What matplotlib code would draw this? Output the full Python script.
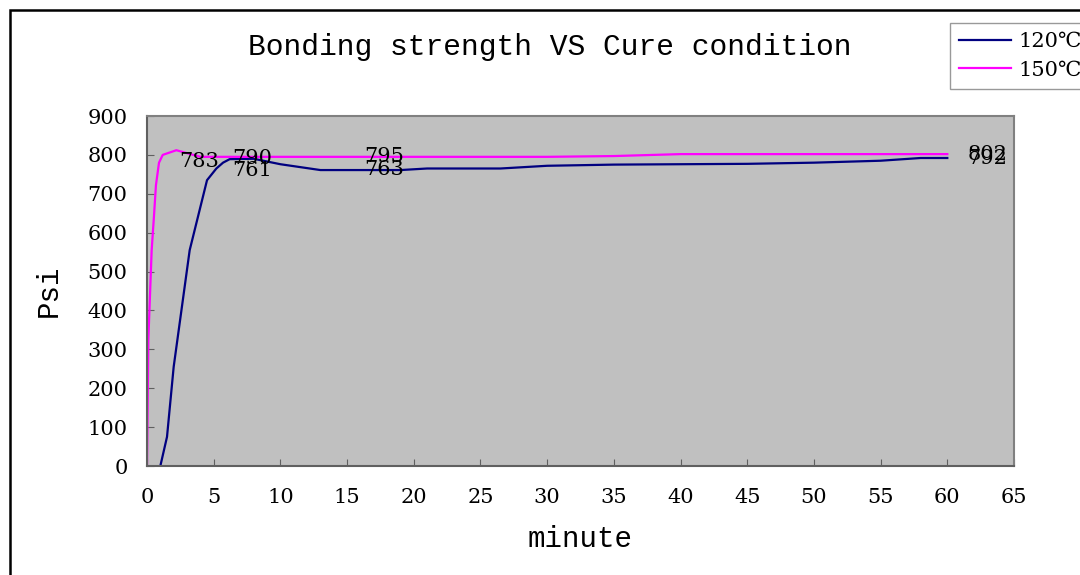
import matplotlib
matplotlib.use("Agg")
import matplotlib.pyplot as plt
from matplotlib.patches import Rectangle

# ---- data ----
t_120 = [1, 1.5, 2, 3.2, 4.5, 5.2, 5.7, 6.2, 8, 10, 13, 19, 21, 26.5, 30, 35, 45, 50, 55, 58, 60]
psi_120 = [0, 75, 255, 555, 735, 765, 780, 789, 790, 776, 761, 761, 765, 765, 772, 775, 777, 780, 785, 792, 792]

t_150 = [0, 0.1, 0.35, 0.52, 0.67, 0.9, 1.18, 2.2, 4, 10, 20, 30, 35, 40, 50, 60]
psi_150 = [0, 324, 555, 641, 722, 780, 800, 812, 795, 795, 795, 795, 797, 802, 802, 802]

series_names = ["120\u2103", "150\u2103"]

label_x = [3.9, 7.9, 7.9, 17.8, 17.8, 63, 63]
label_val = [783, 790, 761, 795, 763, 802, 792]

xticks = list(range(0, 70, 5))
yticks = list(range(0, 1000, 100))

title = "Bonding strength VS Cure condition"
xlabel = "minute"
ylabel = "Psi"

# ---- figure ----
fig = plt.figure(figsize=(10.8, 5.75), dpi=100)
ax = fig.add_axes([147/1080, 1-466/575, (1014-147)/1080, (466-116)/575])
ax.set_facecolor("#C0C0C0")

ax.plot(t_120, psi_120, color="#000080", lw=1.6, label=series_names[0])
ax.plot(t_150, psi_150, color="#FF00FF", lw=1.6, label=series_names[1])

for x, v in zip(label_x, label_val):
    ax.text(x, v, str(v), ha="center", va="center", fontsize=15,
            family="DejaVu Serif", color="black", clip_on=False)

ax.set_xlim(0, 65)
ax.set_ylim(0, 900)
ax.set_xticks(xticks)
ax.set_yticks(yticks)
ax.tick_params(direction="in", length=5, width=0.8, color="#606060")
ax.tick_params(axis="y", pad=14)
ax.tick_params(axis="x", pad=16)
for lab in ax.get_xticklabels() + ax.get_yticklabels():
    lab.set_family("DejaVu Serif")
    lab.set_fontsize(15)
for s in ax.spines.values():
    s.set_color("#808080")
    s.set_linewidth(1.5)
ax.spines["left"].set_color("#606060")
ax.spines["bottom"].set_color("#606060")

ax.set_xlabel(xlabel, family="Liberation Mono", fontsize=21, labelpad=13)
ax.set_ylabel(ylabel, family="Liberation Mono", fontsize=21, labelpad=18)

fig.text(550/1080, 1-47/575, title, family="Liberation Mono", fontsize=21.3,
         ha="center", va="center")

leg = fig.legend(loc="upper left", bbox_to_anchor=(950/1080, 1-23/575),
                 frameon=True, fancybox=False, borderaxespad=0,
                 handlelength=2.5, handletextpad=0.35, labelspacing=0.45,
                 borderpad=0.45,
                 prop={"family": ["DejaVu Serif", "DejaVu Sans"], "size": 15})
leg.get_frame().set_edgecolor("#808080")
leg.get_frame().set_linewidth(1.0)
for line in leg.get_lines():
    line.set_linewidth(1.6)

# outer chart border
fig.patches.append(Rectangle((10/1080, -0.2), 1.2, 1-10/575+0.2,
                             transform=fig.transFigure, fill=False,
                             edgecolor="black", linewidth=1.8))

fig.savefig("out.png", dpi=100)
